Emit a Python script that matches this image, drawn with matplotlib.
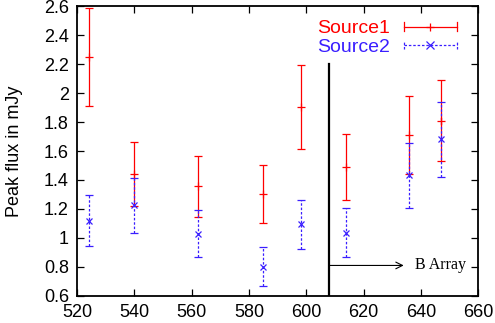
import matplotlib
matplotlib.use("Agg")
import matplotlib.pyplot as plt
from matplotlib.lines import Line2D
from matplotlib.legend_handler import HandlerBase

plt.rcParams['font.family'] = ['Liberation Sans', 'DejaVu Sans']

# Source1 (red)
x1 = [524, 540, 562, 585, 598, 614, 636, 647]
y1 = [2.25, 1.44, 1.355, 1.30, 1.905, 1.49, 1.71, 1.81]
e1 = [0.34, 0.22, 0.21, 0.20, 0.29, 0.23, 0.27, 0.28]

# Source2 (blue)
x2 = [524, 540, 562, 585, 598, 614, 636, 647]
y2 = [1.12, 1.225, 1.03, 0.80, 1.093, 1.035, 1.433, 1.68]
e2 = [0.175, 0.19, 0.165, 0.135, 0.17, 0.17, 0.225, 0.26]

array_change = 608
line_top = 2.2
arrow_y = 0.81
arrow_end = 634

red = '#ff0000'
blue = '#3a1fff'


class ErrLineHandler(HandlerBase):
    """gnuplot-style key sample: horizontal line with caps and a point in the middle"""
    def __init__(self, color, ls, marker):
        super().__init__()
        self.color, self.ls, self.marker = color, ls, marker

    def create_artists(self, legend, orig_handle, xdescent, ydescent,
                       width, height, fontsize, trans):
        y = height / 2 - ydescent
        x0, x1_ = -xdescent, width - xdescent
        h = height * 0.3
        arts = [Line2D([x0, x1_], [y, y], color=self.color, ls=self.ls, lw=0.9),
                Line2D([x0, x0], [y - h, y + h], color=self.color, ls=self.ls, lw=0.9),
                Line2D([x1_, x1_], [y - h, y + h], color=self.color, ls=self.ls, lw=0.9),
                Line2D([(x0 + x1_) / 2], [y], color=self.color, marker=self.marker,
                       ms=6, mew=0.9, ls='none')]
        for a in arts:
            a.set_transform(trans)
        return arts


fig, ax = plt.subplots(figsize=(4.95, 3.23), dpi=100)
fig.subplots_adjust(left=0.156, right=0.966, bottom=0.084, top=0.981)

h1 = ax.errorbar(x1, y1, yerr=e1, fmt='+', color=red, ecolor=red, ms=6, mew=0.9,
                 elinewidth=0.9, capsize=2.6, capthick=0.9, label='Source1')
h2 = ax.errorbar(x2, y2, yerr=e2, fmt='x', color=blue, ecolor=blue, ms=5, mew=0.9,
                 elinewidth=0.9, capsize=2.6, capthick=0.8, label='Source2')
h2[2][0].set_linestyle((0, (2, 1.5)))

ax.plot([array_change, array_change], [0.6, line_top], color='black', lw=1.6)
ax.annotate('', xy=(arrow_end, arrow_y), xytext=(array_change, arrow_y),
            arrowprops=dict(arrowstyle='->', color='black', lw=0.8,
                            shrinkA=0, shrinkB=0, mutation_scale=12))
ax.text(arrow_end + 4, arrow_y, 'B Array', family='Liberation Serif', fontsize=11.5,
        va='center', ha='left')

ax.set_xlim(520, 660)
ax.set_ylim(0.6, 2.6)
ax.set_xticks(range(520, 661, 20))
ax.set_yticks([0.6, 0.8, 1, 1.2, 1.4, 1.6, 1.8, 2, 2.2, 2.4, 2.6])
ax.set_yticklabels(['0.6', '0.8', '1', '1.2', '1.4', '1.6', '1.8', '2', '2.2', '2.4', '2.6'])
ax.tick_params(direction='in', top=True, right=True, length=5, width=0.9,
               labelsize=13, pad=6)
for s in ax.spines.values():
    s.set_linewidth(1.3)
ax.set_ylabel('Peak flux in mJy', fontsize=13)
ax.yaxis.set_label_coords(-0.135, 0.5)

leg = ax.legend([h1, h2], ['Source1', 'Source2'],
                handler_map={h1: ErrLineHandler(red, '-', '+'),
                             h2: ErrLineHandler(blue, (0, (2, 1.5)), 'x')},
                loc='upper right', markerfirst=False, frameon=False, fontsize=14,
                handlelength=2.7, handletextpad=0.7, labelspacing=0.05,
                borderaxespad=0.3, bbox_to_anchor=(0.98, 1.0))
for t, c in zip(leg.get_texts(), [red, blue]):
    t.set_color(c)

plt.savefig('out.png', dpi=100)
